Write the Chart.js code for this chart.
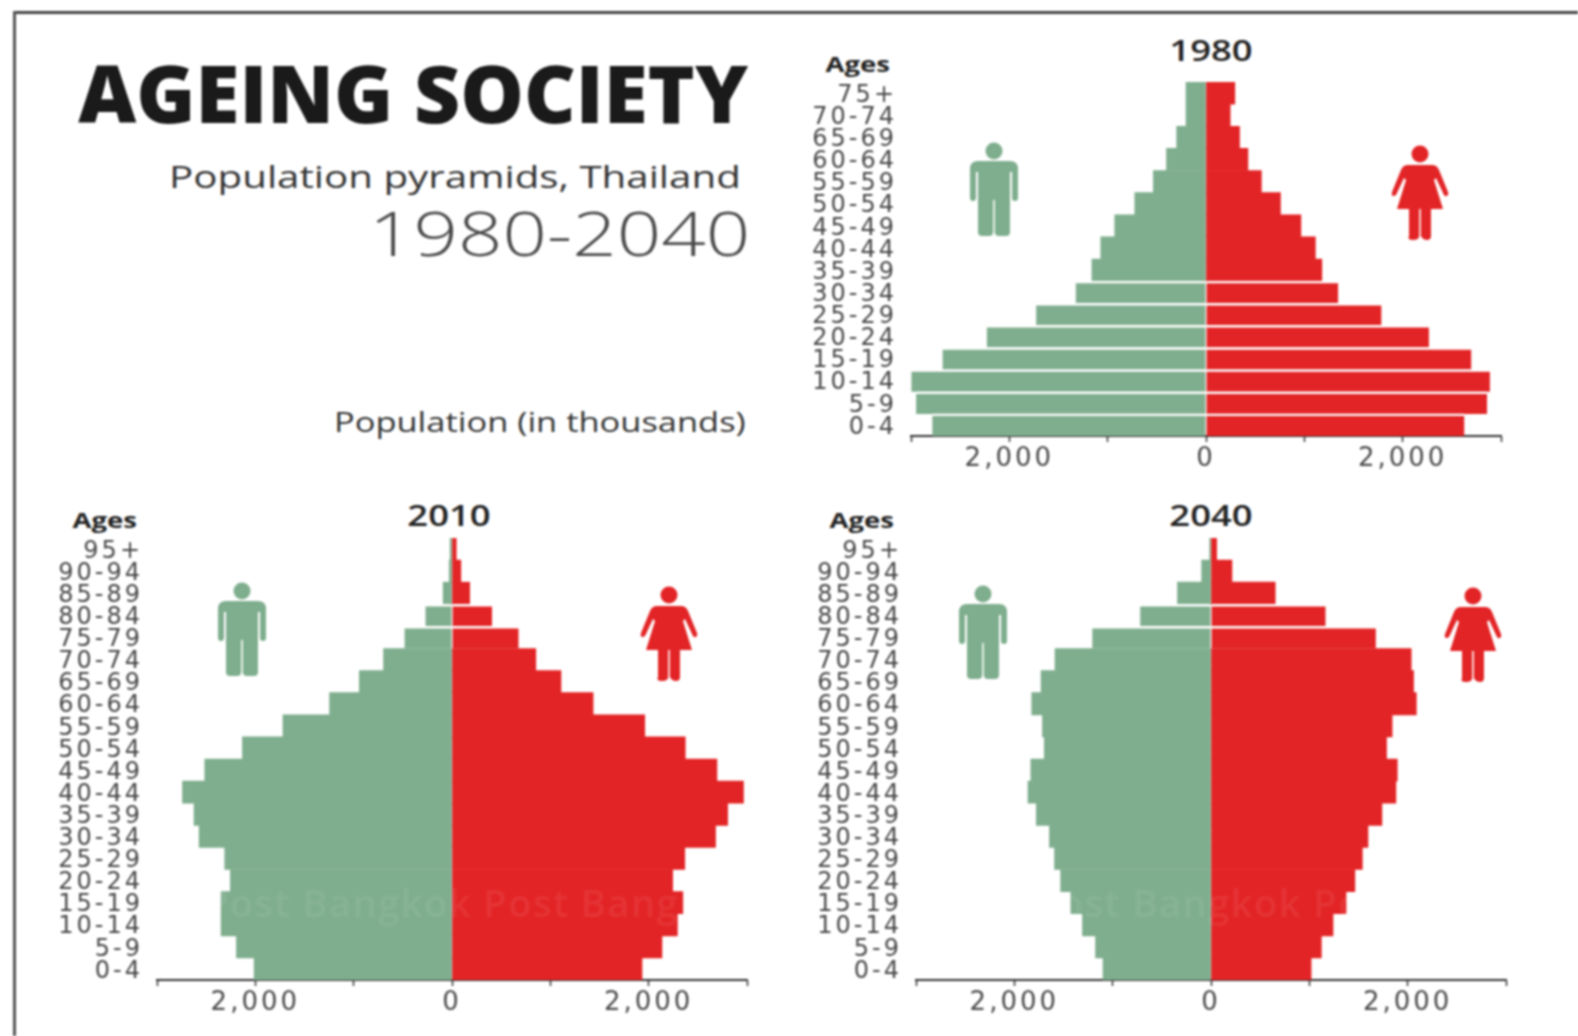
<!DOCTYPE html>
<html>
<head>
<meta charset="utf-8">
<title>Ageing society</title>
<script src="https://cdn.jsdelivr.net/npm/chart.js@4"></script>
<style>
html, body { margin: 0; padding: 0; background: #fff; overflow: hidden; }
#page { position: relative; width: 1578px; height: 1036px; background: #fff; filter: blur(0.8px); overflow: hidden; }
#page canvas { position: absolute; }
.frameTop { position: absolute; left: 13px; top: 11px; width: 1565px; height: 2.5px; background: #444; }
.frameLeft { position: absolute; left: 13px; top: 11px; width: 2.5px; height: 1025px; background: #555; }
.txt { position: absolute; white-space: nowrap; line-height: 1; font-family: "Open Sans", sans-serif; }
.wide { transform: scaleX(1.3); transform-origin: right center; }
.head { right: 830px; top: 52px; font-size: 80px; font-weight: 800; color: #1a1a1a; }
.sub { right: 837px; top: 161px; font-size: 31px; color: #333; }
.range { right: 828px; top: 203px; font-size: 60px; font-weight: 300; color: #4a4a4a; }
.units { right: 832px; top: 409px; font-size: 26.5px; color: #333; }
.ages { font-size: 22px; font-weight: 700; color: #222; width: 66px; text-align: right; transform: scaleX(1.25); transform-origin: right center; }
.year { font-size: 28px; font-weight: 600; color: #222; width: 120px; text-align: center; transform: scaleX(1.3); }
.mark { position: absolute; font-family: "Open Sans", sans-serif; font-size: 38px; font-weight: 600; color: rgba(255,255,255,.07); white-space: nowrap; line-height: 1; letter-spacing: 1.5px; }
svg.icon { position: absolute; }
</style>
</head>
<body>
<div id="page">
  <div class="frameTop"></div>
  <div class="frameLeft"></div>

  <div class="txt head">AGEING SOCIETY</div>
  <div class="txt sub wide">Population pyramids, Thailand</div>
  <div class="txt range wide">1980-2040</div>
  <div class="txt units wide">Population (in thousands)</div>

  <div class="txt ages" style="left:824px;top:52px">Ages</div>
  <div class="txt ages" style="left:71px;top:508px">Ages</div>
  <div class="txt ages" style="left:828px;top:508px">Ages</div>
  <div class="txt year" style="left:1151px;top:36px">1980</div>
  <div class="txt year" style="left:389px;top:501px">2010</div>
  <div class="txt year" style="left:1151px;top:501px">2040</div>

  <canvas id="chart1980" width="730" height="414" style="left:801px;top:82px"></canvas>
  <canvas id="chart2010" width="730" height="502" style="left:47px;top:538px"></canvas>
  <canvas id="chart2040" width="730" height="502" style="left:806px;top:538px"></canvas>

  <div class="mark" style="left:205px;top:883px">Post Bangkok Post Bangkok</div>
  <div class="mark" style="left:1035px;top:883px">Post Bangkok Post</div>

  <svg width="0" height="0" style="position:absolute">
    <symbol id="man" viewBox="0 0 50 94">
      <circle cx="25" cy="9" r="8.5"/>
      <path d="M9 19H41Q49 19 49 27V56Q49 59 46 59T43 56V30H41V90Q41 94 37 94H30Q25.8 94 25.8 90V58H24.2V90Q24.2 94 20 94H13Q9 94 9 90V30H7V56Q7 59 4 59T1 56V27Q1 19 9 19Z"/>
    </symbol>
    <symbol id="woman" viewBox="0 0 58 95">
      <circle cx="29" cy="9" r="8.5"/>
      <path d="M17 20H41Q46 20 48 25L57 47Q58 50 55.5 51T52 48L45 33L43 35L52 64H40V91Q40 95 36 95T29.8 91V64H28.2V91Q28.2 95 22 95T18 91V64H6L15 35L13 33L6 48Q5 51 2.5 51T1 47L10 25Q12 20 17 20Z"/>
    </symbol>
  </svg>
  <svg class="icon" style="left:969px;top:142px" width="50" height="94" fill="#7fae8e"><use href="#man"/></svg>
  <svg class="icon" style="left:1391px;top:145px" width="58" height="95" fill="#e32426"><use href="#woman"/></svg>
  <svg class="icon" style="left:217px;top:582px" width="50" height="94" fill="#7fae8e"><use href="#man"/></svg>
  <svg class="icon" style="left:640px;top:586px" width="58" height="95" fill="#e32426"><use href="#woman"/></svg>
  <svg class="icon" style="left:958px;top:585px" width="50" height="94" fill="#7fae8e"><use href="#man"/></svg>
  <svg class="icon" style="left:1444px;top:587px" width="58" height="95" fill="#e32426"><use href="#woman"/></svg>
</div>

<script>
const ages1980 = ['75+', '70-74', '65-69', '60-64', '55-59', '50-54', '45-49', '40-44', '35-39', '30-34', '25-29', '20-24', '15-19', '10-14', '5-9', '0-4'];
const male1980 = [203, 203, 298, 402, 535, 724, 928, 1070, 1160, 1325, 1727, 2229, 2679, 2996, 2948, 2783];
const female1980 = [293, 246, 341, 426, 563, 757, 965, 1112, 1178, 1344, 1784, 2267, 2698, 2887, 2858, 2627];
const gaps1980 = ['30-34', '25-29', '20-24', '15-19', '10-14', '5-9', '0-4'];

const ages2010 = ['95+', '90-94', '85-89', '80-84', '75-79', '70-74', '65-69', '60-64', '55-59', '50-54', '45-49', '40-44', '35-39', '30-34', '25-29', '20-24', '15-19', '10-14', '5-9', '0-4'];
const male2010 = [19, 28, 90, 270, 483, 696, 942, 1245, 1719, 2131, 2514, 2741, 2623, 2571, 2311, 2254, 2348, 2348, 2192, 2012];
const female2010 = [43, 90, 180, 407, 677, 852, 1108, 1435, 1960, 2372, 2694, 2964, 2803, 2680, 2367, 2244, 2348, 2292, 2135, 1932];
const gaps2010 = ['80-84', '75-79'];

const ages2040 = ages2010;
const male2040 = [14, 95, 341, 720, 1207, 1586, 1728, 1823, 1714, 1695, 1832, 1861, 1776, 1643, 1591, 1529, 1425, 1307, 1174, 1098];
const female2040 = [57, 213, 653, 1165, 1676, 2036, 2060, 2088, 1842, 1785, 1894, 1880, 1738, 1596, 1539, 1463, 1373, 1241, 1122, 1018];
const gaps2040 = ['80-84', '75-79'];

const xTicks = [-3000, -2000, -1000, 0, 1000, 2000, 3000];
const xLabels = ['', '2,000', '', '0', '', '2,000', ''];

const GREEN = '#7fae8e';
const RED = '#e32426';

// canvas text has no letter spacing option in chart.js, set it on the context
const spacedText = {
    id: 'spacedText',
    beforeDraw(chart) {
        chart.ctx.letterSpacing = '3px';
    }
};

function pyramid(id, ages, male, female, gaps) {
    const gapBorder = (ctx) => ({
        top: gaps.includes(ages[ctx.dataIndex]) ? 2.5 : 0,
        right: 0, bottom: 0, left: 0
    });
    return new Chart(document.getElementById(id), {
        type: 'bar',
        data: {
            labels: ages,
            datasets: [
                { label: 'Male', data: male.map(v => -v), backgroundColor: GREEN },
                { label: 'Female', data: female, backgroundColor: RED }
            ]
        },
        plugins: [spacedText],
        options: {
            indexAxis: 'y',
            responsive: false,
            animation: false,
            layout: { padding: { right: 30 } },
            datasets: {
                bar: {
                    barPercentage: 1,
                    categoryPercentage: 1,
                    borderColor: '#fff',
                    borderSkipped: false,
                    borderWidth: gapBorder
                }
            },
            plugins: {
                legend: { display: false },
                tooltip: { enabled: false }
            },
            scales: {
                x: {
                    stacked: true,
                    min: -3000,
                    max: 3000,
                    afterBuildTicks(scale) {
                        scale.ticks = xTicks.map(v => ({ value: v }));
                    },
                    afterFit(scale) {
                        scale.height = 60;
                    },
                    border: { color: '#333', width: 2 },
                    grid: { drawOnChartArea: false, color: '#333', tickLength: 6, tickWidth: 1.5 },
                    ticks: {
                        autoSkip: false,
                        maxRotation: 0,
                        padding: 2,
                        color: '#4a4a4a',
                        font: { family: 'DejaVu Sans', size: 26 },
                        callback: (v) => xLabels[xTicks.indexOf(v)]
                    }
                },
                y: {
                    stacked: true,
                    afterFit(scale) {
                        scale.width = 110;
                        // labels are taller than a row, keep them from pushing the plot down
                        scale.paddingTop = 0;
                        scale.paddingBottom = 0;
                    },
                    border: { display: false },
                    grid: { display: false },
                    ticks: {
                        autoSkip: false,
                        padding: 6,
                        labelOffset: 2.5,
                        color: '#484848',
                        font: { family: 'DejaVu Sans', size: 24 }
                    }
                }
            }
        }
    });
}

pyramid('chart1980', ages1980, male1980, female1980, gaps1980);
pyramid('chart2010', ages2010, male2010, female2010, gaps2010);
pyramid('chart2040', ages2040, male2040, female2040, gaps2040);
</script>
</body>
</html>
